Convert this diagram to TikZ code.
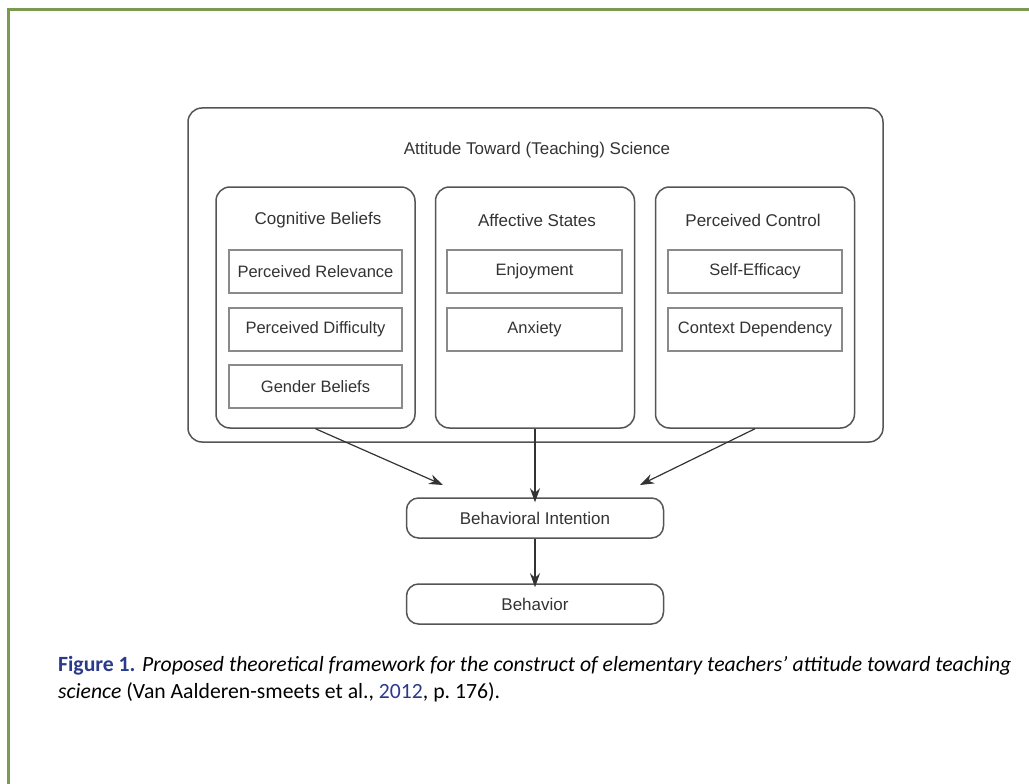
\documentclass[tikz,border=0pt]{standalone}
\usepackage{fontspec}
\setmainfont{Liberation Sans}
\newfontfamily\capfont{Carlito}
\usetikzlibrary{arrows.meta}
\definecolor{framegreen}{HTML}{7A9A4F}
\definecolor{boxgray}{HTML}{555555}
\definecolor{itemgray}{HTML}{8A8A8A}
\definecolor{txtgray}{HTML}{333333}
\definecolor{capblue}{HTML}{2B3A8C}
\begin{document}
\begin{tikzpicture}[x=1pt,y=-1pt,
  framestyle/.style={draw=framegreen, line width=3pt},
  bigbox/.style={draw=boxgray, line width=1.5pt, rounded corners=14pt, inner sep=0pt},
  catbox/.style={draw=boxgray, line width=1.5pt, rounded corners=14pt, inner sep=0pt, minimum width=199pt, minimum height=241pt},
  itembox/.style={draw=itemgray, line width=1.1pt, inner sep=0pt, minimum height=43pt, text=txtgray, font=\fontsize{16.5}{18}\selectfont},
  flowbox/.style={draw=boxgray, line width=1.5pt, rounded corners=12pt, inner sep=0pt, minimum width=257pt, minimum height=40pt, text=txtgray, font=\fontsize{17}{19}\selectfont},
  headtxt/.style={text=txtgray, font=\fontsize{17}{19}\selectfont, inner sep=0pt},
  arr/.style={draw=txtgray, line width=1.2pt, -{Stealth[length=14pt,width=10pt]}},
  captxt/.style={anchor=base west, inner sep=0pt, font=\capfont\fontsize{21.7}{26}\selectfont, text=black}
]
\useasboundingbox (0,0) rectangle (1029,784);
\fill[white] (0,0) rectangle (1029,784);
\draw[framestyle] (8,800) -- (8,10) -- (1040,10);

% outer attitude box
\node[bigbox, minimum width=695pt, minimum height=334pt] (att) at (535.5,275) {};
\node[headtxt] (atttitle) at (537,150) {Attitude Toward (Teaching) Science};

% category boxes
\node[catbox] (cog) at (315.5,307.5) {};
\node[catbox] (aff) at (535,307.5) {};
\node[catbox] (ctl) at (755,307.5) {};
\node[headtxt] (cogt) at (318,220) {Cognitive Beliefs};
\node[headtxt] (afft) at (537,220) {Affective States};
\node[headtxt] (ctlt) at (753,220) {Perceived Control};

% items
\node[itembox, minimum width=173pt] (rel) at (315.5,271.5) {Perceived Relevance};
\node[itembox, minimum width=173pt] (dif) at (315.5,329.5) {Perceived Difficulty};
\node[itembox, minimum width=173pt] (gen) at (315.5,386.5) {Gender Beliefs};
\node[itembox, minimum width=175pt] (enj) at (534.5,271.5) {Enjoyment};
\node[itembox, minimum width=175pt] (anx) at (534.5,329.5) {Anxiety};
\node[itembox, minimum width=174pt] (eff) at (755,271.5) {Self-Efficacy};
\node[itembox, minimum width=174pt] (ctx) at (755,329.5) {Context Dependency};

% flow boxes
\node[flowbox] (bi) at (535,518) {Behavioral Intention};
\node[flowbox] (beh) at (535,604) {Behavior};

% arrows
\coordinate (cogend) at (443,485);
\coordinate (ctlend) at (640,485);
\draw[arr] (cog.south) -- (cogend);
\draw[arr] (aff.south) -- ([yshift=-5pt]bi.north);
\draw[arr] (ctl.south) -- (ctlend);
\draw[arr] (bi.south) -- ([yshift=-4pt]beh.north);

% caption
\node[captxt] (cap1) at (58,671) {\textcolor{capblue}{\bfseries Figure 1.} \itshape Proposed theoretical framework for the construct of elementary teachers’ attitude toward teaching};
\node[captxt] (cap2) at (58,698) {\itshape science\upshape{} (Van Aalderen-smeets et al., \textcolor{capblue}{2012}, p.~176).};
\end{tikzpicture}
\end{document}
